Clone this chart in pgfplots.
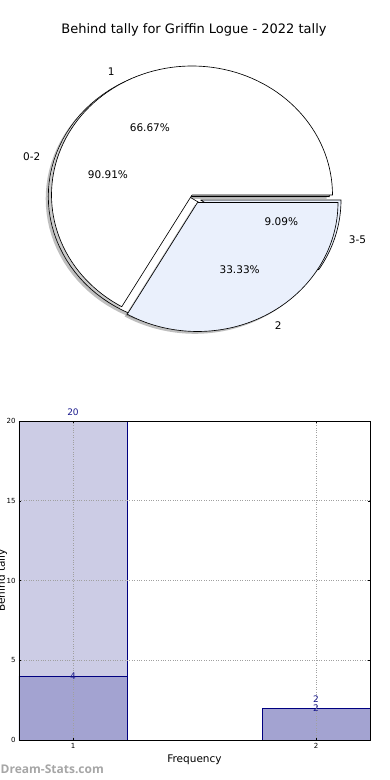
\documentclass[border=0pt]{standalone}
\usepackage{fontspec}
\setmainfont{DejaVu Sans}
\newfontfamily\wmfont{Open Sans}
\usepackage{pgfplots}
\pgfplotsset{compat=1.18}
\definecolor{pieblue}{HTML}{EAF0FC}
\definecolor{barlight}{HTML}{CCCCE5}
\definecolor{bardark}{HTML}{A3A3D1}
\definecolor{baredge}{HTML}{000080}
\definecolor{lblblue}{HTML}{1A1A8C}
\definecolor{gridc}{HTML}{A0A0A0}
\definecolor{wmgray}{HTML}{A6A6A6}
\newcommand{\lblfont}{\fontsize{10.5}{12}\selectfont}
% one pie wedge drawn through the axis: #1 cx, #2 cy, #3 start angle, #4 end angle, #5 style
\newcommand{\pieslice}[5]{%
\addplot[#5, variable=\t, domain=-0.02:1.02, samples=105]
 ({#1+140.5*(abs(\t-0.5)<0.505)*cos(#3+(#4-#3)*min(max(\t,0),1))},
  {#2+129*(abs(\t-0.5)<0.505)*sin(#3+(#4-#3)*min(max(\t,0),1))});
}
\newcommand{\pielab}[7]{%
 \pgfmathsetmacro\midang{(#3+#4)/2}
 \node[anchor=#6, inner sep=0, font=\lblfont] at ({#1+154.55*cos(\midang)},{#2+141.9*sin(\midang)}) {#5};
 \node[anchor=center, inner sep=0, font=\lblfont] at ({#1+84.3*cos(\midang)},{#2+77.4*sin(\midang)}) {#7};
}
\begin{document}
\begin{tikzpicture}[x=1pt,y=1pt]
\useasboundingbox (0,0) rectangle (390,780);
% data: light series (0-2 / 3-5) and dark series (1 / 2)
\def\LA{20}\def\LB{2}\def\DA{4}\def\DB{2}
\pgfmathsetmacro\aL{360*\LA/(\LA+\LB)}
\pgfmathsetmacro\aD{360*\DA/(\DA+\DB)}
\begin{axis}[at={(0pt,0pt)}, anchor=south west, scale only axis, width=390pt, height=780pt,
  xmin=0, xmax=390, ymin=0, ymax=780, hide axis, clip=false]
\pieslice{186.2}{581.2}{0}{\aL}{fill=black, fill opacity=0.25, draw=none}
\pieslice{188.8}{583.5}{0}{\aL}{fill=white, draw=black, line width=0.65pt}
\pieslice{197.9}{577.4}{\aL}{360}{fill=black, fill opacity=0.25, draw=none}
\pieslice{200.5}{580}{\aL}{360}{fill=pieblue, draw=black, line width=0.65pt}
\pieslice{189.4}{582.7}{0}{\aD}{fill=black, fill opacity=0.2, draw=none}
\pieslice{192}{585}{0}{\aD}{fill=white, draw=black, line width=0.65pt}
\pieslice{194.9}{575.2}{\aD}{360}{fill=black, fill opacity=0.25, draw=none}
\pieslice{197.5}{577.5}{\aD}{360}{fill=pieblue, draw=black, line width=0.65pt}
\end{axis}
\pielab{188.8}{583.5}{0}{\aL}{0-2}{east}{90.91\%}
\pielab{200.5}{580}{\aL}{360}{3-5}{west}{9.09\%}
\pielab{192}{585}{0}{\aD}{1}{east}{66.67\%}
\pielab{197.5}{577.5}{\aD}{360}{2}{west}{33.33\%}
\node[font=\fontsize{13}{15}\selectfont] at (194,750) {Behind tally for Griffin Logue - 2022 tally};
\begin{axis}[at={(19pt,40pt)}, anchor=south west, scale only axis, width=351pt, height=319pt,
  xmin=0.7778, xmax=2.2222, ymin=0, ymax=20,
  xtick={1,2}, ytick={0,5,10,15,20},
  /pgf/number format/assume math mode=true,
  tick label style={font=\fontsize{7}{8}\selectfont},
  grid=major, major grid style={gridc, dotted, line width=0.8pt},
  axis on top, axis line style={black, line width=0.8pt},
  tick align=inside, major tick length=2pt, tick style={black},
  xlabel={Frequency}, ylabel={Behind tally},
  label style={font=\lblfont},
  xlabel style={at={(axis description cs:0.5,-0.0627)}, anchor=center},
  ylabel style={at={(axis description cs:-0.0484,0.5)}, anchor=center},
  clip=false]
\addplot[ybar, bar width=0.4444, bar shift=0pt, fill=barlight, draw=baredge, line width=0.7pt,
  nodes near coords, nodes near coords style={font=\fontsize{9}{10}\selectfont, text=lblblue, anchor=center, yshift=8.5pt}]
  coordinates {(1,20) (2,2)};
\addplot[ybar, bar width=0.4444, bar shift=0pt, fill=bardark, draw=baredge, line width=0.7pt,
  nodes near coords, nodes near coords style={font=\fontsize{9}{10}\selectfont, text=lblblue, anchor=center, yshift=0pt}]
  coordinates {(1,4) (2,2)};
\end{axis}
\node[anchor=west, inner sep=0, font=\wmfont\bfseries\fontsize{12}{14}\selectfont, text=wmgray] at (0.5,11) {Dream-Stats.com};
\end{tikzpicture}
\end{document}
